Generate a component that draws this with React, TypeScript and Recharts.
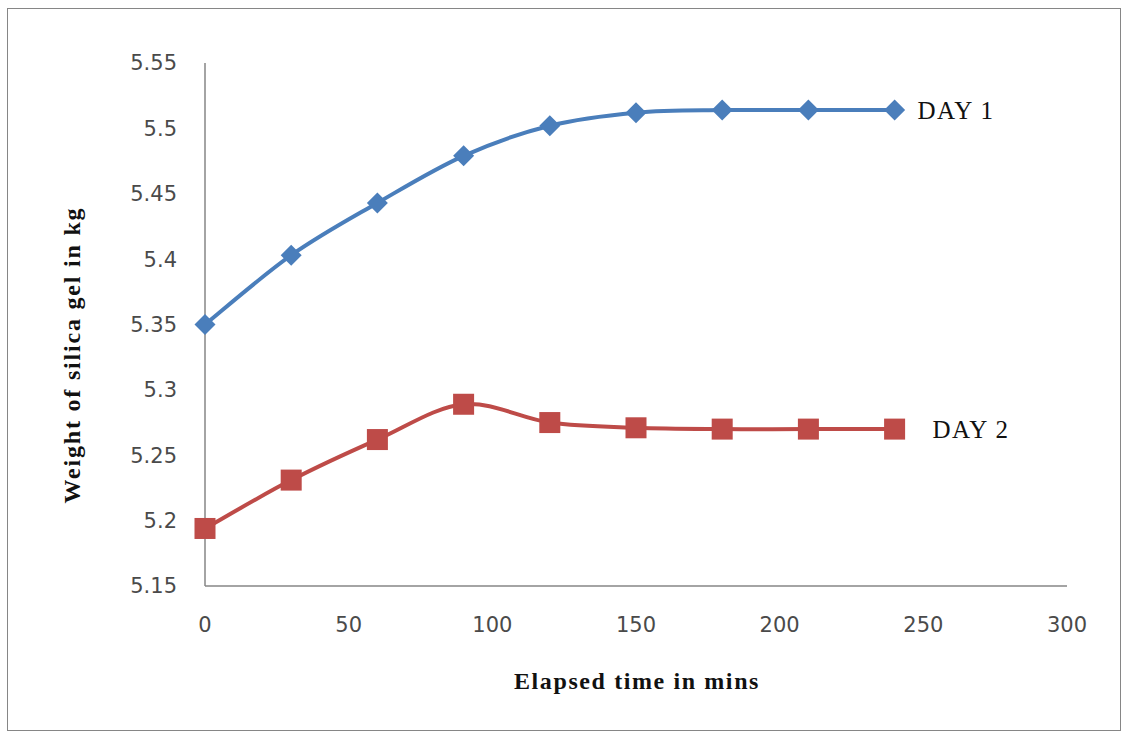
import React from 'react';
import { LineChart, Line, XAxis, YAxis, LabelList } from 'recharts';

// elapsed time (mins) and silica gel weight (kg)
const timeMins = [0, 30, 60, 90, 120, 150, 180, 210, 240];
const day1Weight = [5.35, 5.403, 5.443, 5.479, 5.502, 5.512, 5.514, 5.514, 5.514];
const day2Weight = [5.194, 5.231, 5.262, 5.289, 5.275, 5.271, 5.27, 5.27, 5.27];
const seriesNames = ['DAY 1', 'DAY 2'];

const xTicks = [0, 50, 100, 150, 200, 250, 300];
const yTicks = [5.15, 5.2, 5.25, 5.3, 5.35, 5.4, 5.45, 5.5, 5.55];

const last = timeMins.length - 1;
const data = timeMins.map((t, i) => ({
  time: t,
  day1: day1Weight[i],
  day2: day2Weight[i],
  day1Label: i === last ? seriesNames[0] : undefined,
  day2Label: i === last ? seriesNames[1] : undefined,
}));

const BLUE = '#4A7EBB';
const RED = '#BE4B48';
const AXIS = '#868686';

// Excel style smoothed line: Catmull-Rom through every point
const excelSmooth = (context: any) => {
  let pts: number[][] = [];
  return {
    areaStart() {},
    areaEnd() {},
    lineStart() {
      pts = [];
    },
    point(x: number, y: number) {
      pts.push([+x, +y]);
    },
    lineEnd() {
      if (!pts.length) return;
      context.moveTo(pts[0][0], pts[0][1]);
      for (let i = 0; i < pts.length - 1; i++) {
        const p0 = pts[i - 1] || pts[i];
        const p1 = pts[i];
        const p2 = pts[i + 1];
        const p3 = pts[i + 2] || p2;
        context.bezierCurveTo(
          p1[0] + (p2[0] - p0[0]) / 6,
          p1[1] + (p2[1] - p0[1]) / 6,
          p2[0] - (p3[0] - p1[0]) / 6,
          p2[1] - (p3[1] - p1[1]) / 6,
          p2[0],
          p2[1]
        );
      }
    },
  };
};

const DiamondDot = (props: any) => {
  const { cx, cy, index } = props;
  if (cx == null || cy == null) return <g key={`d1-${index}`} />;
  const r = 10.5;
  return (
    <path
      key={`d1-${index}`}
      d={`M${cx},${cy - r}L${cx + r},${cy}L${cx},${cy + r}L${cx - r},${cy}Z`}
      fill={BLUE}
    />
  );
};

const SquareDot = (props: any) => {
  const { cx, cy, index } = props;
  if (cx == null || cy == null) return <g key={`d2-${index}`} />;
  const s = 21;
  return <rect key={`d2-${index}`} x={cx - s / 2} y={cy - s / 2} width={s} height={s} fill={RED} />;
};

const tickStyle = { fontFamily: '"DejaVu Sans", sans-serif', fontSize: 21, fill: '#4a4a4a' };
const titleFont = '"Liberation Serif", "Times New Roman", serif';

export default function App() {
  return (
    <div style={{ position: 'relative', width: 1124, height: 733, background: '#fff' }}>
      <style>{`body{margin:0}`}</style>
      <div
        style={{
          position: 'absolute',
          left: 7,
          top: 8,
          width: 1114,
          height: 723,
          border: `1px solid ${AXIS}`,
          boxSizing: 'border-box',
        }}
      />
      <LineChart
        width={1124}
        height={733}
        data={data}
        margin={{ top: 63, right: 57, bottom: 87, left: 125 }}
        style={{ position: 'absolute', left: 0, top: 0 }}
      >
        <XAxis
          dataKey="time"
          type="number"
          domain={[0, 300]}
          ticks={xTicks}
          tickLine={false}
          tickMargin={25}
          axisLine={{ stroke: AXIS, strokeWidth: 1.5 }}
          tick={tickStyle}
          height={60}
        />
        <YAxis
          type="number"
          domain={[5.15, 5.55]}
          ticks={yTicks}
          tickLine={false}
          tickMargin={22}
          axisLine={{ stroke: AXIS, strokeWidth: 1.5 }}
          tick={tickStyle}
          width={80}
        />
        <Line
          dataKey="day1"
          type={excelSmooth as any}
          stroke={BLUE}
          strokeWidth={4}
          dot={DiamondDot}
          activeDot={false}
          isAnimationActive={false}
        >
          <LabelList
            dataKey="day1Label"
            position="right"
            offset={23}
            fontFamily={titleFont}
            fontSize={25}
            fill="#111"
            letterSpacing={1.4}
          />
        </Line>
        <Line
          dataKey="day2"
          type={excelSmooth as any}
          stroke={RED}
          strokeWidth={4}
          dot={SquareDot}
          activeDot={false}
          isAnimationActive={false}
        >
          <LabelList
            dataKey="day2Label"
            position="right"
            offset={38}
            fontFamily={titleFont}
            fontSize={25}
            fill="#111"
            letterSpacing={1.4}
          />
        </Line>
      </LineChart>
      <div
        style={{
          position: 'absolute',
          left: 0,
          width: 1274,
          top: 668,
          textAlign: 'center',
          fontFamily: titleFont,
          fontWeight: 'bold',
          fontSize: 24,
          letterSpacing: 1.6,
          color: '#111',
          whiteSpace: 'nowrap',
        }}
      >
        Elapsed time in mins
      </div>
      <div
        style={{
          position: 'absolute',
          left: 72,
          top: 355,
          transform: 'translate(-50%, -50%) rotate(-90deg)',
          fontFamily: titleFont,
          fontWeight: 'bold',
          fontSize: 24,
          letterSpacing: 1.8,
          color: '#111',
          whiteSpace: 'nowrap',
        }}
      >
        Weight of silica gel in kg
      </div>
    </div>
  );
}
